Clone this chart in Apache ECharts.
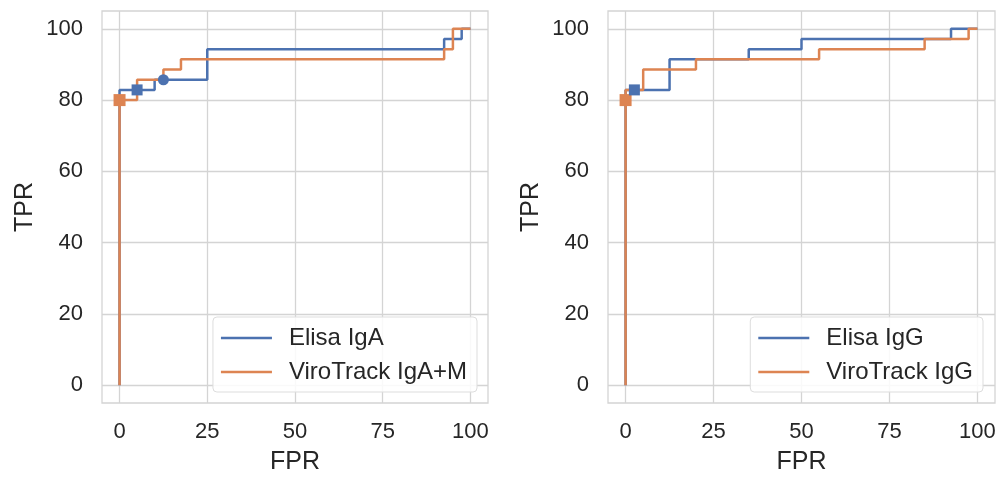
<!DOCTYPE html>
<html>
<head>
<meta charset="utf-8">
<script src="https://cdn.jsdelivr.net/npm/echarts@6/dist/echarts.min.js"></script>
<style>
html,body{margin:0;padding:0;background:#fff;}
#c{width:1001px;height:477px;}
</style>
</head>
<body>
<div id="c"></div>
<script>
// ROC points (FPR %, TPR %)
const elisaIgA_fpr = [0, 0, 10, 10, 25, 25, 92.5, 92.5, 97.5, 97.5, 100];
const elisaIgA_tpr = [0, 82.86, 82.86, 85.71, 85.71, 94.29, 94.29, 97.14, 97.14, 100, 100];
const viroIgAM_fpr = [0, 0, 5, 5, 12.5, 12.5, 17.5, 17.5, 92.5, 92.5, 95, 95, 100];
const viroIgAM_tpr = [0, 80, 80, 85.71, 85.71, 88.57, 88.57, 91.43, 91.43, 94.29, 94.29, 100, 100];
const elisaIgG_fpr = [0, 0, 12.5, 12.5, 35, 35, 50, 50, 92.5, 92.5, 100];
const elisaIgG_tpr = [0, 82.86, 82.86, 91.43, 91.43, 94.29, 94.29, 97.14, 97.14, 100, 100];
const viroIgG_fpr = [0, 0, 5, 5, 20, 20, 55, 55, 85, 85, 97.5, 97.5, 100];
const viroIgG_tpr = [0, 82.86, 82.86, 88.57, 88.57, 91.43, 91.43, 94.29, 94.29, 97.14, 97.14, 100, 100];
// highlighted operating points
const leftOrangeSquare = [[0, 80]];
const leftBlueSquare = [[5, 82.86]];
const leftBlueCircle = [[12.5, 85.71]];
const rightOrangeSquare = [[0, 80]];
const rightBlueSquare = [[2.5, 82.86]];
// ticks
const xTicks = [0, 25, 50, 75, 100];
const yTicks = [0, 20, 40, 60, 80, 100];
const legendLeft = ['Elisa IgA', 'ViroTrack IgA+M'];
const legendRight = ['Elisa IgG', 'ViroTrack IgG'];

const BLUE = '#4c72b0', ORANGE = '#dd8452', GRID = '#d4d4d4', TXT = '#262626';
const FONT = '"Liberation Sans", Arial, sans-serif';
const zip = (a, b) => a.map((v, i) => [v, b[i]]);

function xAxis(idx) {
  return {
    type: 'value', gridIndex: idx, min: -5, max: 105,
    name: 'FPR', nameLocation: 'middle', nameGap: 47,
    nameTextStyle: {fontSize: 25, color: TXT, fontFamily: FONT},
    axisLine: {show: false},
    axisTick: {show: false, customValues: xTicks},
    axisLabel: {customValues: xTicks, fontSize: 22, color: TXT, fontFamily: FONT, margin: 18},
    splitLine: {show: true, lineStyle: {color: GRID, width: 1.3}}
  };
}
function yAxis(idx) {
  return {
    type: 'value', gridIndex: idx, min: -5, max: 105,
    name: 'TPR', nameLocation: 'middle', nameGap: 64, nameRotate: 90,
    nameTextStyle: {fontSize: 25, color: TXT, fontFamily: FONT},
    axisLine: {show: false},
    axisTick: {show: false, customValues: yTicks},
    axisLabel: {customValues: yTicks, fontSize: 22, color: TXT, fontFamily: FONT, margin: 19},
    splitLine: {show: true, lineStyle: {color: GRID, width: 1.3}}
  };
}
function lineSeries(name, idx, color, data) {
  return {
    name, type: 'line', xAxisIndex: idx, yAxisIndex: idx, data,
    symbol: 'none', lineStyle: {color, width: 2.5}, itemStyle: {color},
    animation: false, z: 3
  };
}
function marker(idx, color, symbol, size, data) {
  return {
    type: 'scatter', xAxisIndex: idx, yAxisIndex: idx, data, symbol, symbolSize: size,
    itemStyle: {color, opacity: 1}, animation: false, z: 5, silent: true
  };
}
function legend(data, right) {
  return {
    data, orient: 'vertical', right, bottom: 85,
    icon: 'rect', itemWidth: 51, itemHeight: 2.5, itemGap: 10,
    padding: [9, 10, 8, 8],
    backgroundColor: 'rgba(255,255,255,0.85)', borderColor: '#dddddd', borderWidth: 1, borderRadius: 4,
    textStyle: {fontSize: 24, color: TXT, fontFamily: FONT, padding: [0, 0, 0, 12]}
  };
}

const chart = echarts.init(document.getElementById('c'));
chart.setOption({
  backgroundColor: '#fff',
  animation: false,
  grid: [
    {left: 102, top: 11, width: 386, height: 392, outerBoundsMode: 'none', containLabel: false, show: true, borderColor: GRID, borderWidth: 1.3, backgroundColor: '#fff'},
    {left: 608, top: 11, width: 387, height: 392, outerBoundsMode: 'none', containLabel: false, show: true, borderColor: GRID, borderWidth: 1.3, backgroundColor: '#fff'}
  ],
  xAxis: [xAxis(0), xAxis(1)],
  yAxis: [yAxis(0), yAxis(1)],
  legend: [legend(legendLeft, 1001 - 477), legend(legendRight, 1001 - 983)],
  series: [
    lineSeries(legendLeft[0], 0, BLUE, zip(elisaIgA_fpr, elisaIgA_tpr)),
    lineSeries(legendLeft[1], 0, ORANGE, zip(viroIgAM_fpr, viroIgAM_tpr)),
    marker(0, ORANGE, 'rect', 12, leftOrangeSquare),
    marker(0, BLUE, 'rect', 11, leftBlueSquare),
    marker(0, BLUE, 'circle', 11, leftBlueCircle),
    lineSeries(legendRight[0], 1, BLUE, zip(elisaIgG_fpr, elisaIgG_tpr)),
    lineSeries(legendRight[1], 1, ORANGE, zip(viroIgG_fpr, viroIgG_tpr)),
    marker(1, ORANGE, 'rect', 12, rightOrangeSquare),
    marker(1, BLUE, 'rect', 11, rightBlueSquare)
  ]
});
</script>
</body>
</html>
